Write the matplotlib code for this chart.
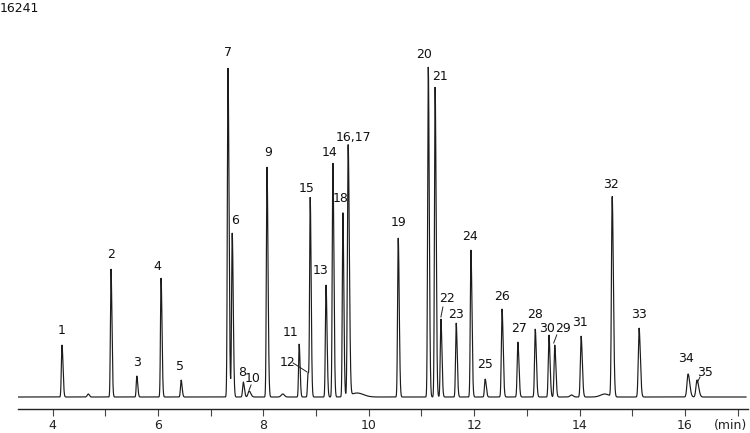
import numpy as np
import matplotlib
matplotlib.use("Agg")
import matplotlib.pyplot as plt

# ---- data ----
peak_labels = ["1", "2", "3", "4", "5", "7", "6", "8", "10", "9", "11", "12", "15",
               "13", "14", "18", "16,17", "19", "20", "21", "22", "23", "24", "25",
               "26", "27", "28", "30", "29", "31", "32", "33", "34", "35"]
peak_times = [4.18, 5.11, 5.60, 6.06, 6.44, 7.33, 7.41, 7.62, 7.73, 8.07, 8.68, 8.85, 8.89,
              9.19, 9.32, 9.51, 9.61, 10.56, 11.13, 11.26, 11.37, 11.66, 11.94, 12.21,
              12.53, 12.83, 13.16, 13.42, 13.53, 14.03, 14.62, 15.13, 16.06, 16.23]
peak_heights = [52, 128, 21, 119, 17, 329, 164, 15, 6, 230, 53, 24, 198,
                112, 234, 184, 251, 159, 330, 310, 78, 74, 147, 18,
                88, 55, 68, 62, 52, 61, 200, 69, 23, 17]
peak_widths = [0.012, 0.011, 0.011, 0.011, 0.012, 0.012, 0.012, 0.013, 0.02, 0.012, 0.011, 0.011, 0.011,
               0.012, 0.012, 0.011, 0.014, 0.012, 0.012, 0.012, 0.012, 0.012, 0.012, 0.013,
               0.013, 0.013, 0.013, 0.013, 0.013, 0.014, 0.014, 0.015, 0.02, 0.02]

minor_times = [4.68, 8.37, 9.78, 13.85, 14.48]
minor_heights = [3, 3, 4, 2, 3]
minor_widths = [0.02, 0.03, 0.12, 0.03, 0.08]

x_ticks = [4, 6, 8, 10, 12, 14, 16]
title = "16241"

# ---- label placement (pixel offsets from peak top) ----
label_offsets = {
    "1": (0, 15), "2": (0, 14), "3": (0, 14), "4": (-4, 12), "5": (-1, 13),
    "7": (0, 16), "6": (3, 12), "8": (-1, 9), "10": (4, 12), "9": (1, 14),
    "11": (-9, 11), "12": (-21, 10), "15": (-4, 11), "13": (-5, 14), "14": (-3, 11),
    "18": (-2, 14), "16,17": (5, 9), "19": (0, 15), "20": (-4, 13), "21": (5, 10),
    "22": (6, 20), "23": (0, 9), "24": (-1, 13), "25": (0, 14), "26": (0, 12),
    "27": (1, 13), "28": (0, 14), "30": (-2, 7), "29": (8, 16), "31": (-1, 13),
    "32": (-1, 13), "33": (0, 14), "34": (-2, 15), "35": (8, 8),
}
# leader lines: (start offset, end offset) in pixels relative to peak top
leaders = {
    "10": ((2, 6), (0, 1)),
    "12": ((-15, 10), (-1, 1)),
    "22": ((2, 12), (0, 2)),
    "29": ((2, 10), (-1, 2)),
    "35": ((3, 3), (0, -3)),
}

W, H, DPI = 750, 433, 100
fig = plt.figure(figsize=(W / DPI, H / DPI), dpi=DPI)
ax_left, ax_right, ax_bottom_px = 18, 748, 409
ax = fig.add_axes([ax_left / W, (H - ax_bottom_px) / H,
                   (ax_right - ax_left) / W, ax_bottom_px / H])

px_per_min = 52.7
t0_px = 52.5
xmin = 4 + (ax_left - t0_px) / px_per_min
xmax = 4 + (ax_right - t0_px) / px_per_min

t = np.linspace(xmin, 4 + (746 - t0_px) / px_per_min, 40000)
sig = np.zeros_like(t)
for c, h, w in zip(peak_times, peak_heights, peak_widths):
    # slight tailing: wider on right side
    s = np.where(t < c, w, w * 1.6)
    sig += h * np.exp(-0.5 * ((t - c) / s) ** 2)
for c, h, w in zip(minor_times, minor_heights, minor_widths):
    sig += h * np.exp(-0.5 * ((t - c) / w) ** 2)

ax.plot(t, sig, color="#1c1c1c", lw=0.85, solid_joinstyle="miter")
ax.set_xlim(xmin, xmax)
ax.set_ylim(-12, ax_bottom_px - 12)

for s in ["top", "right", "left"]:
    ax.spines[s].set_visible(False)
ax.spines["bottom"].set_color("#222222")
ax.spines["bottom"].set_linewidth(1.0)
ax.set_yticks([])
ax.set_xticks(x_ticks)
ax.set_xticks([5, 7, 9, 11, 13, 15, 17], minor=True)
ax.tick_params(axis="x", which="both", direction="out", length=5, width=0.8,
               colors="#444444", labelsize=9, pad=2.5, labelcolor="#222222")

ux = 1.0 / px_per_min  # minutes per pixel
for lab, c, h in zip(peak_labels, peak_times, peak_heights):
    dx, dy = label_offsets[lab]
    ax.text(c + dx * ux, h + dy, lab, ha="center", va="center", fontsize=9,
            color="#111111")
    if lab in leaders:
        (sx, sy), (ex, ey) = leaders[lab]
        ax.plot([c + sx * ux, c + ex * ux], [h + sy, h + ey], color="#222222", lw=0.7)

fig.text(0.0, 1 - 9 / H, title, ha="left", va="center", fontsize=9, color="#111111")
fig.text(747 / W, 1 - 425 / H, "(min)", ha="right", va="center", fontsize=9,
         color="#222222")

fig.savefig("out.png", dpi=DPI)
